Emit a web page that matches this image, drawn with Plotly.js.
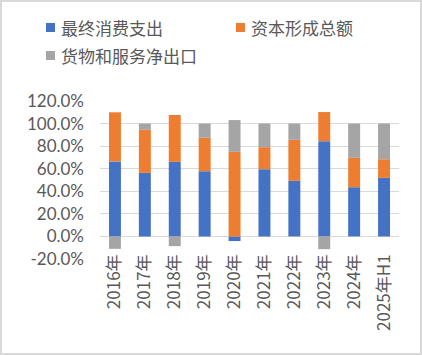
<!DOCTYPE html>
<html>
<head>
<meta charset="utf-8">
<script src="https://cdn.plot.ly/plotly-3.0.1.min.js"></script>
<style>
  html, body { margin: 0; padding: 0; background: #fff; }
  #wrap { position: relative; width: 422px; height: 355px; }
  #chart { position: absolute; left: 0; top: 0; width: 422px; height: 355px; }
  #frame { position: absolute; left: 0; top: 0; width: 418px; height: 351px; border: 2px solid #d9d9d9; pointer-events: none; }
</style>
</head>
<body>
<div id="wrap"><div id="chart"></div><div id="frame"></div></div>
<script>
// ---- data ----
const categories = ["2016年","2017年","2018年","2019年","2020年","2021年","2022年","2023年","2024年","2025年H1"];
const seriesNames = ["最终消费支出","资本形成总额","货物和服务净出口"];
const consumption = [66.5, 56.3, 66.1, 57.8, -4.1, 59.6, 49.2, 84.4, 43.6, 51.9];
const capital     = [43.5, 38.2, 41.5, 29.6, 74.9, 19.5, 36.4, 25.8, 26.0, 16.5];
const netExports  = [-11.0, 5.5, -8.6, 12.6, 28.2, 20.9, 14.4, -11.3, 30.4, 31.6];
const yTickVals   = [-20, 0, 20, 40, 60, 80, 100, 120];
const yTickText   = ["-20.0%","0.0%","20.0%","40.0%","60.0%","80.0%","100.0%","120.0%"];

const colors = ["#4472C4", "#ED7D31", "#A5A5A5"];
const seriesValues = [consumption, capital, netExports];

const W = 422, H = 355;
const M = { l: 100, r: 23, t: 101, b: 96 };
const pw = W - M.l - M.r, ph = H - M.t - M.b;
const px2x = p => (p - M.l) / pw;
const px2y = p => (H - M.b - p) / ph;

const font = "'Noto Sans CJK SC', 'Noto Sans', sans-serif";
const numFont = "Lato, 'Noto Sans', sans-serif";

const traces = seriesNames.map((n, i) => ({
  type: "bar",
  name: n,
  x: categories,
  y: seriesValues[i],
  marker: { color: colors[i], line: { width: 0 } },
  hoverinfo: "skip"
}));

// custom legend (square + label)
const legendPos = [[46, 23], [236, 23], [46, 51]];
const shapes = [];
const annotations = [];
seriesNames.forEach((n, i) => {
  const [sx, sy] = legendPos[i];
  shapes.push({
    type: "rect", xref: "paper", yref: "paper",
    x0: px2x(sx), x1: px2x(sx + 9), y0: px2y(sy + 9), y1: px2y(sy),
    fillcolor: colors[i], line: { width: 0 }
  });
  annotations.push({
    xref: "paper", yref: "paper", x: px2x(sx + 13), y: px2y(sy + 4.5),
    xanchor: "left", yanchor: "middle", showarrow: false,
    text: n, font: { family: font, size: 17, color: "#595959" }
  });
});

const layout = {
  width: W, height: H,
  margin: M,
  paper_bgcolor: "#fff", plot_bgcolor: "#fff",
  barmode: "relative",
  bargap: 0.6,
  showlegend: false,
  font: { family: font, size: 17, color: "#595959" },
  xaxis: {
    type: "category",
    tickangle: -90,
    showgrid: false, showline: false, zeroline: false,
    ticks: "",
    ticklabelstandoff: -9,
    tickfont: { family: font, size: 17, color: "#595959" }
  },
  yaxis: {
    range: [-20, 120],
    tickvals: yTickVals, ticktext: yTickText,
    showgrid: true, gridcolor: "#d9d9d9", gridwidth: 1,
    zeroline: true, zerolinecolor: "#d9d9d9", zerolinewidth: 1,
    showline: false, ticks: "",
    ticklabelstandoff: 15,
    tickfont: { family: numFont, size: 17, color: "#595959" }
  },
  shapes: shapes,
  annotations: annotations
};

Plotly.newPlot("chart", traces, layout, { staticPlot: true, displayModeBar: false });
</script>
</body>
</html>
